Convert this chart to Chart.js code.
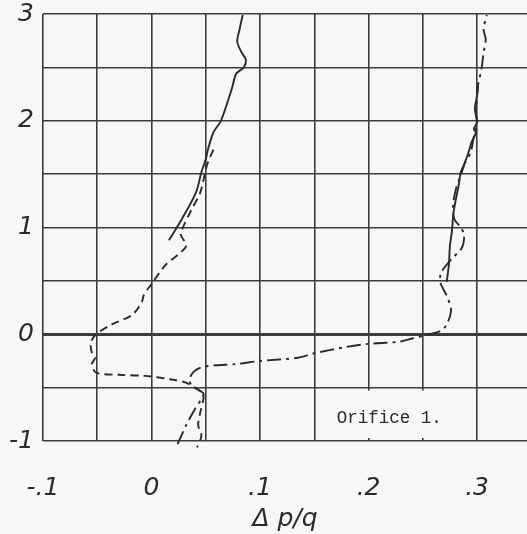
<!DOCTYPE html>
<html>
<head>
<meta charset="utf-8">
<script src="https://cdn.jsdelivr.net/npm/chart.js@4.4.1/dist/chart.umd.min.js"></script>
<style>
  html, body { margin: 0; padding: 0; background: #f7f7f7; }
  #wrap { width: 527px; height: 534px; }
</style>
</head>
<body>
<div id="wrap"><canvas id="c" width="527" height="534"></canvas></div>
<script>
// ---- Data (x = Δp/q, y = vertical coordinate) ----
const xTickValues = [-0.1, 0, 0.1, 0.2, 0.3];
const xTickLabels = ['-.1', '0', '.1', '.2', '.3'];
const yTickValues = [-1, 0, 1, 2, 3];
const yTickLabels = ['-1', '0', '1', '2', '3'];
const xTitle = 'Δ p/q';
const noteText = 'Orifice 1.';
const noteX = 0.219;
const noteY = -0.79;

// solid curve, upper left
const solidLeftX = [0.016, 0.028, 0.041, 0.046, 0.050, 0.052, 0.057, 0.064, 0.074, 0.078, 0.085, 0.087, 0.083, 0.079, 0.081, 0.084];
const solidLeftY = [0.88, 1.08, 1.33, 1.52, 1.64, 1.73, 1.89, 2.00, 2.30, 2.44, 2.50, 2.57, 2.64, 2.74, 2.85, 2.99];

// dashed curve, left
const dashedLeftX = [0.057, 0.051, 0.045, 0.037, 0.028, 0.027, 0.032, 0.025, 0.013, 0.000, -0.007, -0.009, -0.018, -0.037, -0.051, -0.056, -0.055, -0.052, -0.055, -0.051, -0.030, -0.006, 0.016, 0.031, 0.040, 0.046, 0.048, 0.045, 0.043, 0.046, 0.042];
const dashedLeftY = [1.73, 1.58, 1.33, 1.17, 0.98, 0.93, 0.83, 0.75, 0.65, 0.47, 0.37, 0.30, 0.18, 0.09, 0.00, -0.08, -0.17, -0.22, -0.28, -0.36, -0.38, -0.39, -0.42, -0.45, -0.50, -0.54, -0.59, -0.73, -0.85, -0.95, -1.06];

// dash-dot curve, from bottom across to the right and up
const dashDotX = [0.024, 0.032, 0.040, 0.048, 0.043, 0.037, 0.035, 0.039, 0.046, 0.059, 0.077, 0.100, 0.135, 0.149, 0.179, 0.200, 0.228, 0.240, 0.252, 0.266, 0.272, 0.276, 0.272, 0.266, 0.267, 0.276, 0.286, 0.288, 0.285, 0.279, 0.278, 0.281, 0.285, 0.289, 0.294, 0.297, 0.299, 0.300, 0.299, 0.300, 0.301, 0.304, 0.306, 0.308, 0.306, 0.309];
const dashDotY = [-1.03, -0.85, -0.70, -0.56, -0.52, -0.48, -0.42, -0.35, -0.31, -0.29, -0.28, -0.25, -0.22, -0.18, -0.12, -0.09, -0.07, -0.04, -0.01, 0.03, 0.09, 0.23, 0.36, 0.49, 0.58, 0.70, 0.81, 0.93, 1.00, 1.08, 1.22, 1.38, 1.49, 1.61, 1.70, 1.85, 1.92, 1.97, 2.08, 2.24, 2.34, 2.48, 2.64, 2.76, 2.86, 2.99];

// solid curve, right
const solidRightX = [0.272, 0.274, 0.275, 0.277, 0.278, 0.280, 0.283, 0.285, 0.288, 0.292, 0.295, 0.299, 0.297, 0.300, 0.298, 0.300, 0.301];
const solidRightY = [0.49, 0.65, 0.83, 0.98, 1.12, 1.24, 1.39, 1.52, 1.59, 1.70, 1.80, 1.89, 1.92, 1.99, 2.11, 2.24, 2.34];

function pts(xs, ys) { return xs.map((x, i) => ({ x: x, y: ys[i] })); }

const INK = '#2b2b2b';
const GRID = '#3c3c3c';
const BG = '#f7f7f7';
const labelFont = { family: "'DejaVu Sans', 'Liberation Sans', sans-serif", size: 25, style: 'italic', weight: 'normal', lineHeight: 1 };

function lineDs(label, data, dash) {
  return {
    label: label, data: data, showLine: true, borderColor: INK, borderWidth: 1.9,
    borderDash: dash, pointRadius: 0, pointHoverRadius: 0, tension: 0.3, fill: false, clip: 8
  };
}

function findLabel(vals, labels, v) {
  for (let i = 0; i < vals.length; i++) if (Math.abs(vals[i] - v) < 1e-6) return labels[i];
  return '';
}

const notePlugin = {
  id: 'note',
  beforeDatasetsDraw(chart) {
    const ctx = chart.ctx, xs = chart.scales.x, ys = chart.scales.y;
    const x1 = xs.getPixelForValue(0.15), x2 = xs.getPixelForValue(0.3);
    const y1 = ys.getPixelForValue(-0.5), y2 = ys.getPixelForValue(-1);
    ctx.save();
    ctx.fillStyle = BG;
    ctx.fillRect(x1 + 3, y1 + 3, x2 - x1 - 6, y2 - y1 - 6);
    ctx.fillStyle = INK;
    ctx.font = "17.5px 'Liberation Mono', monospace";
    ctx.textAlign = 'center';
    ctx.textBaseline = 'middle';
    ctx.fillText(noteText, xs.getPixelForValue(noteX), ys.getPixelForValue(noteY));
    ctx.restore();
  }
};

new Chart(document.getElementById('c'), {
  type: 'scatter',
  data: {
    datasets: [
      lineDs('solid left', pts(solidLeftX, solidLeftY), []),
      lineDs('dashed left', pts(dashedLeftX, dashedLeftY), [8, 5]),
      lineDs('dash-dot', pts(dashDotX, dashDotY), [14, 5, 3, 5]),
      lineDs('solid right', pts(solidRightX, solidRightY), [])
    ]
  },
  options: {
    responsive: false,
    animation: false,
    events: [],
    layout: { padding: { top: 14, right: 0, left: 0, bottom: 0 } },
    plugins: { legend: { display: false }, tooltip: { enabled: false } },
    scales: {
      x: {
        type: 'linear', min: -0.1, max: 0.346,
        afterFit(s) { s.height = 93; s.paddingLeft = 0; s.paddingRight = 0; },
        border: { display: false },
        grid: { color: GRID, lineWidth: 1.6, drawTicks: false },
        ticks: {
          stepSize: 0.05, includeBounds: false, autoSkip: false, maxRotation: 0,
          color: INK, font: labelFont, padding: 35,
          callback: (v) => findLabel(xTickValues, xTickLabels, v)
        },
        title: { display: true, text: xTitle, color: INK, font: labelFont, padding: { top: 0, bottom: 2 } }
      },
      y: {
        type: 'linear', min: -1, max: 3,
        afterFit(s) { s.width = 43; s.paddingTop = 0; s.paddingBottom = 0; },
        border: { display: false },
        grid: {
          color: GRID, drawTicks: false,
          lineWidth: (c) => (c.tick && Math.abs(c.tick.value) < 1e-9 ? 3 : 1.6)
        },
        ticks: {
          stepSize: 0.5, includeBounds: false, autoSkip: false,
          color: INK, font: labelFont, padding: 9,
          callback: (v) => findLabel(yTickValues, yTickLabels, v)
        }
      }
    }
  },
  plugins: [notePlugin]
});
</script>
</body>
</html>
